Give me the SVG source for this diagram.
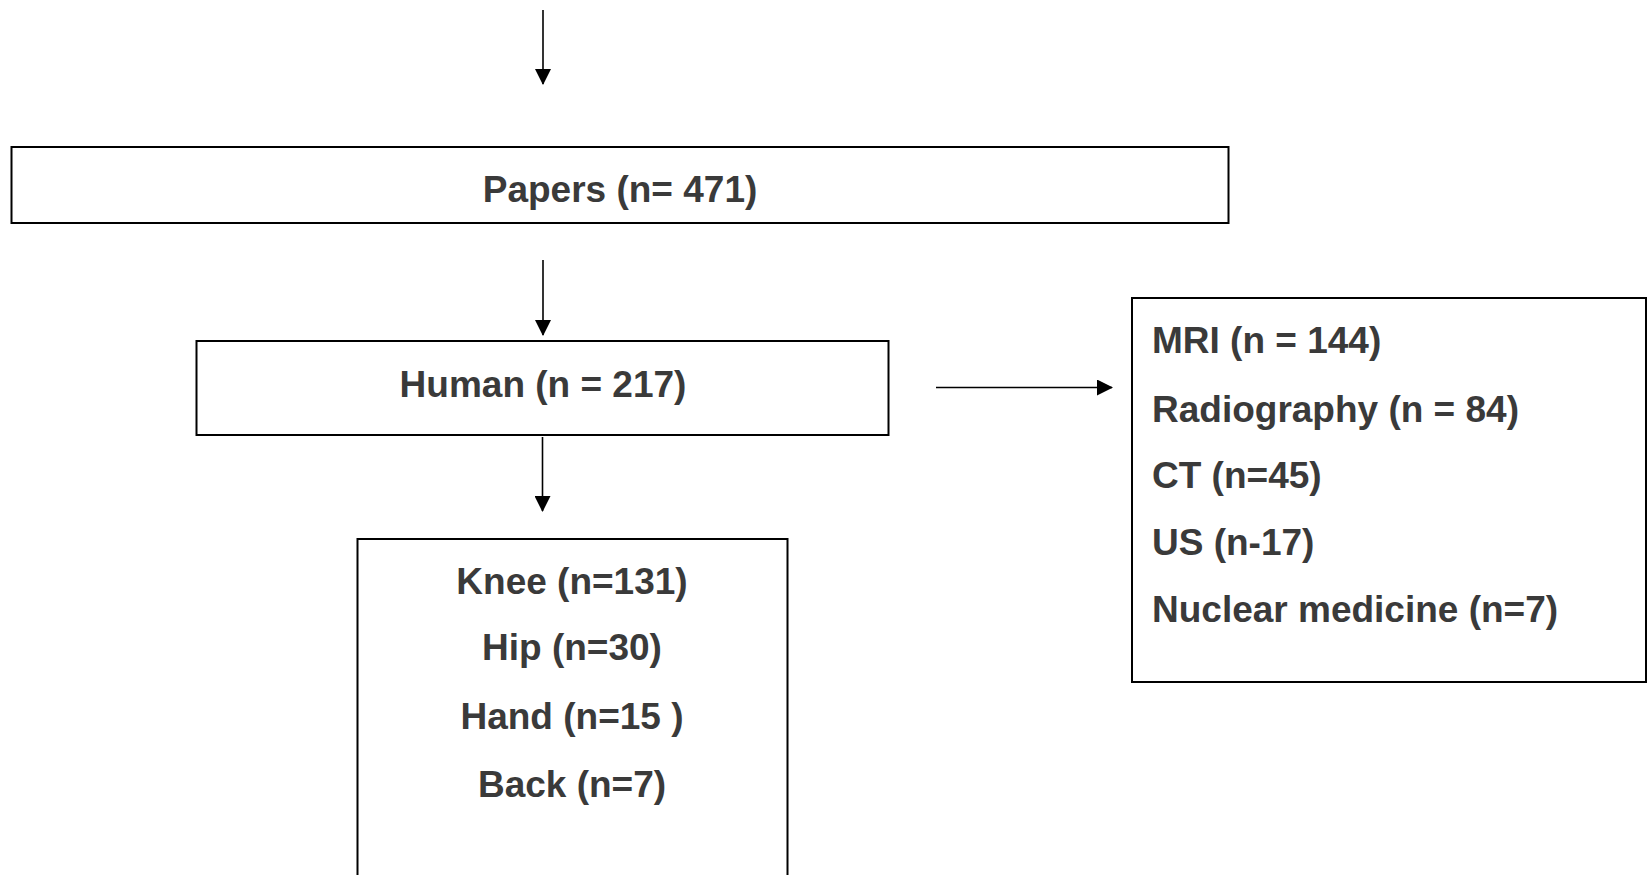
<svg xmlns="http://www.w3.org/2000/svg" width="1651" height="875" viewBox="0 0 1651 875">
<style>
.box{fill:#fff;stroke:#000;stroke-width:2}
.t{font-family:"Liberation Sans",Arial,sans-serif;font-weight:bold;font-size:37px;fill:#3a3a3a}
.c{text-anchor:middle}
.ln{stroke:#000;stroke-width:1.6;fill:none}
</style>
<defs>
<marker id="ah" markerUnits="userSpaceOnUse" markerWidth="16" markerHeight="16" viewBox="0 0 16 16" refX="15" refY="8" orient="auto">
<path d="M0,0 L16,8 L0,16 Z" fill="#000"/>
</marker>
</defs>
<rect width="1651" height="875" fill="#fff"/>
<g id="connectors">
<line class="ln" x1="543" y1="10" x2="543" y2="84" marker-end="url(#ah)"/>
<line class="ln" x1="543" y1="260" x2="543" y2="335" marker-end="url(#ah)"/>
<line class="ln" x1="542.5" y1="437" x2="542.5" y2="511" marker-end="url(#ah)"/>
<line class="ln" x1="936" y1="387.5" x2="1112" y2="387.5" marker-end="url(#ah)"/>
</g>
<g id="papers">
<rect class="box" x="11.5" y="147" width="1217" height="76"/>
<text class="t c" x="620" y="202">Papers (n= 471)</text>
</g>
<g id="human">
<rect class="box" x="196.5" y="341" width="692" height="94"/>
<text class="t c" x="543" y="397">Human (n = 217)</text>
</g>
<g id="sites">
<rect class="box" x="357.5" y="539" width="430" height="350"/>
<text class="t c" x="572" y="594">Knee (n=131)</text>
<text class="t c" x="572" y="660">Hip (n=30)</text>
<text class="t c" x="572" y="729">Hand (n=15 )</text>
<text class="t c" x="572" y="797">Back (n=7)</text>
</g>
<g id="modalities">
<rect class="box" x="1132" y="298" width="514" height="384"/>
<text class="t" x="1152" y="353">MRI (n = 144)</text>
<text class="t" x="1152" y="422">Radiography (n = 84)</text>
<text class="t" x="1152" y="488">CT (n=45)</text>
<text class="t" x="1152" y="555">US (n-17)</text>
<text class="t" x="1152" y="622">Nuclear medicine (n=7)</text>
</g>
</svg>
